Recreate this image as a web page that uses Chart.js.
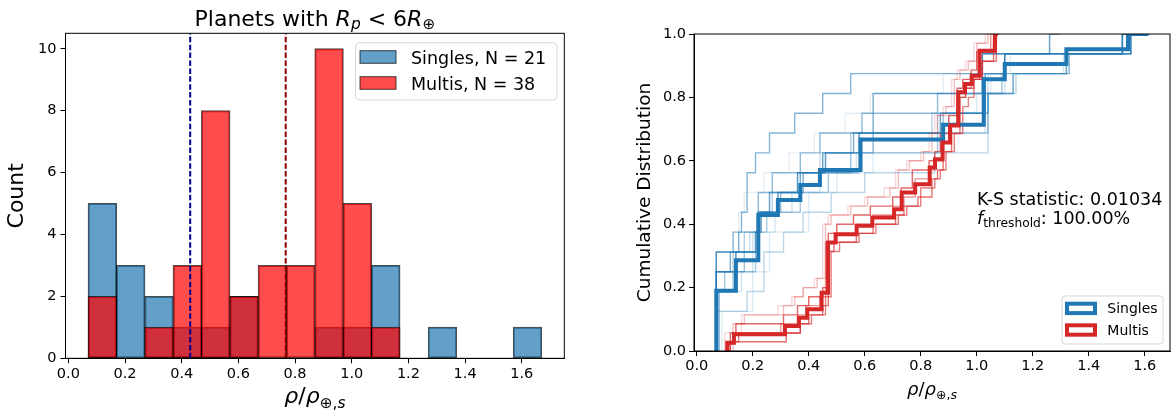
<!DOCTYPE html>
<html><head><meta charset="utf-8">
<script src="https://cdn.jsdelivr.net/npm/chart.js@4"></script>
<style>
body{margin:0;background:#fff;width:1172px;height:414px;overflow:hidden;position:relative}
canvas{position:absolute;top:0}
#c1{left:0}
#c2{left:586px}
</style></head><body>
<canvas id="c1" width="580" height="414"></canvas>
<canvas id="c2" width="586" height="414"></canvas>
<script>
// ---------- Left panel data (histogram) ----------
const binCenters = [0.12,0.22,0.32,0.42,0.52,0.62,0.72,0.82,0.92,1.02,1.12,1.22,1.32,1.42,1.52,1.62];
const singlesCounts = [5,3,2,1,1,2,0,0,1,1,3,0,1,0,0,1];
const multisCounts  = [2,0,1,3,8,2,3,3,10,5,1,0,0,0,0,0];
const medians = [0.43, 0.767];          // singles, multis
const histLabels = ['Singles, N = 21', 'Multis, N = 38'];
const histXTicks = [0.0,0.2,0.4,0.6,0.8,1.0,1.2,1.4,1.6];
const histYTicks = [0,2,4,6,8,10];

// ---------- Right panel data (cumulative distributions) ----------
const singlesCdfX = [0.07,0.07,0.14,0.22,0.29,0.37,0.44,0.585,0.88,1.025,1.10,1.32,1.54,1.613];
const singlesCdfY = [0,0.190,0.286,0.429,0.476,0.524,0.571,0.667,0.714,0.857,0.905,0.952,1.0,1.0];
const multisCdfX = [0.109,0.109,0.133,0.315,0.365,0.395,0.446,0.469,0.496,0.571,0.627,0.705,0.732,0.780,0.832,0.851,0.878,0.905,0.934,0.958,0.982,1.010,1.065,1.075];
const multisCdfY = [0,0.026,0.053,0.079,0.105,0.132,0.184,0.342,0.368,0.395,0.421,0.447,0.500,0.526,0.579,0.605,0.658,0.711,0.816,0.842,0.868,0.947,1.0,1.0];

const singlesBootX = [
  [0.07,0.07,0.14,0.22,0.26,0.36,0.45,0.58,0.87,1.03,1.10,1.55,1.62],
  [0.07,0.07,0.13,0.16,0.18,0.21,0.26,0.35,0.45,0.55,1.02,1.26,1.30],
  [0.08,0.08,0.13,0.17,0.22,0.30,0.37,0.55,0.63,0.88,1.04,1.13,1.32,1.52,1.55],
  [0.07,0.07,0.18,0.24,0.31,0.38,0.48,0.60,0.85,1.04,1.14,1.33,1.55,1.60],
  [0.07,0.07,0.15,0.22,0.27,0.37,0.44,0.59,0.86,1.02,1.10,1.52,1.55],
  [0.07,0.07,0.16,0.20,0.28,0.34,0.44,0.57,0.87,1.03,1.10,1.31,1.52,1.56],
  [0.09,0.09,0.20,0.26,0.40,0.50,0.63,0.90,1.00,1.05,1.12,1.26,1.28],
  [0.07,0.07,0.12,0.21,0.23,0.29,0.38,0.46,0.56,0.63,1.02,1.52,1.55],
  [0.07,0.07,0.13,0.17,0.23,0.27,0.37,0.46,0.55,0.84,1.03,1.13,1.33,1.55,1.58],
  [0.08,0.08,0.14,0.19,0.22,0.29,0.36,0.44,0.58,0.86,1.04,1.10,1.52,1.55],
  [0.07,0.07,0.15,0.17,0.24,0.33,0.42,0.53,0.62,0.88,1.02,1.26,1.28],
  [0.07,0.07,0.10,0.21,0.25,0.37,0.47,0.58,0.86,1.04,1.09,1.32,1.55,1.57]
];
const singlesBootY = [
  [0,0.25,0.3125,0.4375,0.5,0.5625,0.625,0.6875,0.75,0.875,0.9375,1,1],
  [0,0.3125,0.375,0.4375,0.5625,0.625,0.6875,0.75,0.8125,0.875,0.9375,1,1],
  [0,0.1875,0.25,0.3125,0.4375,0.5,0.5625,0.625,0.6875,0.75,0.8125,0.875,0.9375,1,1],
  [0,0.125,0.1875,0.3125,0.375,0.4375,0.5,0.5625,0.625,0.8125,0.875,0.9375,1,1],
  [0,0.3125,0.375,0.5,0.5625,0.625,0.6875,0.75,0.8125,0.875,0.9375,1,1],
  [0,0.1875,0.25,0.375,0.4375,0.5,0.5625,0.625,0.6875,0.8125,0.875,0.9375,1,1],
  [0,0.125,0.25,0.375,0.5,0.5625,0.6875,0.75,0.8125,0.875,0.9375,1,1],
  [0,0.25,0.3125,0.375,0.4375,0.5,0.5625,0.625,0.6875,0.8125,0.9375,1,1],
  [0,0.25,0.3125,0.375,0.4375,0.5,0.5625,0.625,0.6875,0.75,0.8125,0.875,0.9375,1,1],
  [0,0.1875,0.3125,0.375,0.4375,0.5,0.5625,0.625,0.6875,0.75,0.875,0.9375,1,1],
  [0,0.3125,0.4375,0.5,0.5625,0.625,0.6875,0.75,0.8125,0.875,0.9375,1,1],
  [0,0.1875,0.25,0.375,0.4375,0.5,0.5625,0.625,0.6875,0.8125,0.875,0.9375,1,1]
];
const singlesBootAlpha = [0.7,0.55,0.45,0.3,0.5,0.2,0.15,0.6,0.35,0.25,0.12,0.4];

const multisBootX = [
  [0.12,0.12,0.14,0.31,0.36,0.40,0.45,0.47,0.50,0.56,0.62,0.70,0.73,0.77,0.83,0.85,0.87,0.90,0.93,0.95,0.98,1.00,1.06,1.07],
  [0.11,0.11,0.15,0.33,0.37,0.41,0.46,0.48,0.51,0.58,0.64,0.72,0.75,0.80,0.85,0.87,0.89,0.92,0.95,0.97,0.99,1.02,1.07,1.08],
  [0.13,0.13,0.17,0.31,0.35,0.38,0.43,0.46,0.48,0.55,0.61,0.69,0.72,0.76,0.81,0.84,0.86,0.89,0.92,0.94,0.97,1.00,1.04,1.05],
  [0.12,0.12,0.13,0.32,0.37,0.40,0.45,0.47,0.49,0.57,0.63,0.71,0.74,0.79,0.84,0.86,0.88,0.91,0.94,0.96,0.99,1.02,1.06,1.07],
  [0.10,0.10,0.16,0.29,0.34,0.38,0.42,0.45,0.47,0.54,0.60,0.67,0.71,0.75,0.80,0.83,0.85,0.88,0.91,0.93,0.96,0.99,1.03,1.04],
  [0.11,0.11,0.13,0.30,0.36,0.39,0.44,0.46,0.50,0.57,0.63,0.70,0.74,0.78,0.83,0.85,0.88,0.90,0.93,0.96,0.98,1.01,1.05,1.06]
];
const multisBootY = [
  [0,0.057,0.086,0.114,0.143,0.171,0.2,0.371,0.4,0.429,0.457,0.486,0.514,0.571,0.6,0.629,0.686,0.743,0.829,0.857,0.886,0.943,1.0,1.0],
  [0,0.029,0.057,0.057,0.086,0.114,0.171,0.314,0.343,0.371,0.4,0.429,0.457,0.514,0.543,0.571,0.629,0.686,0.771,0.8,0.857,0.914,1.0,1.0],
  [0,0.086,0.114,0.143,0.171,0.2,0.229,0.4,0.429,0.457,0.486,0.514,0.571,0.6,0.629,0.686,0.743,0.771,0.857,0.886,0.914,0.971,1.0,1.0],
  [0,0.029,0.029,0.057,0.086,0.114,0.143,0.314,0.343,0.371,0.4,0.429,0.457,0.486,0.543,0.571,0.629,0.686,0.8,0.829,0.857,0.914,0.971,1.0],
  [0,0.057,0.114,0.143,0.171,0.2,0.229,0.4,0.429,0.457,0.486,0.514,0.571,0.6,0.629,0.686,0.743,0.771,0.857,0.886,0.914,0.971,1.0,1.0],
  [0,0.029,0.057,0.086,0.114,0.143,0.171,0.343,0.371,0.4,0.429,0.457,0.486,0.543,0.571,0.6,0.657,0.714,0.8,0.829,0.857,0.943,1.0,1.0]
];
const multisBootAlpha = [0.7,0.6,0.3,0.65,0.18,0.5];
const cdfLabels = ['Singles','Multis'];
const cdfXTicks = [0.0,0.2,0.4,0.6,0.8,1.0,1.2,1.4,1.6];
const cdfYTicks = [0.0,0.2,0.4,0.6,0.8,1.0];
const ksText = 'K-S statistic: 0.01034';
const fText = ': 100.00%';

// ---------- helpers ----------
const FAM = '"DejaVu Sans"';
function drawRuns(ctx, runs, x, y, align){
  let w = 0; const ms = [];
  for (const r of runs){ ctx.font = (r.i?'italic ':'') + r.s + 'px ' + FAM; const m = ctx.measureText(r.t).width; ms.push(m); w += m; }
  let cx = align === 'center' ? x - w/2 : x;
  ctx.textAlign = 'left'; ctx.textBaseline = 'alphabetic'; ctx.fillStyle = '#000';
  runs.forEach((r,k) => { ctx.font = (r.i?'italic ':'') + r.s + 'px ' + FAM; ctx.fillText(r.t, cx, y + (r.dy||0)); cx += ms[k]; });
}
function roundRect(ctx,x,y,w,h,r){
  ctx.beginPath(); ctx.moveTo(x+r,y); ctx.lineTo(x+w-r,y); ctx.quadraticCurveTo(x+w,y,x+w,y+r);
  ctx.lineTo(x+w,y+h-r); ctx.quadraticCurveTo(x+w,y+h,x+w-r,y+h); ctx.lineTo(x+r,y+h);
  ctx.quadraticCurveTo(x,y+h,x,y+h-r); ctx.lineTo(x,y+r); ctx.quadraticCurveTo(x,y,x+r,y); ctx.closePath();
}
const pts = (xs, ys) => xs.map((x,k) => ({x: x, y: ys[k]}));
const tickFont = {family: 'DejaVu Sans', size: 14.5};
function axisCommon(ticksArr, fmt, pad){
  return {
    type: 'linear',
    offset: false,
    grid: {display: true, drawOnChartArea: false, drawTicks: true, tickLength: 5, tickColor: '#000', tickWidth: 1, offset: false},
    border: {display: true, color: '#000', width: 1},
    ticks: {color: '#000', font: tickFont, padding: pad, callback: fmt, maxRotation: 0, autoSkip: false},
    afterBuildTicks: s => { s.ticks = ticksArr.map(v => ({value: v})); }
  };
}

// ---------- Left chart ----------
const SBLUE = 'rgba(31,119,180,0.7)', SRED = 'rgba(255,0,0,0.7)', EDGE = 'rgba(0,0,0,0.7)';
const leftPlugin = {
  id: 'leftDecor',
  afterDraw(chart){
    const ctx = chart.ctx, ca = chart.chartArea;
    ctx.save();
    ctx.strokeStyle = '#000'; ctx.lineWidth = 1;
    ctx.strokeRect(ca.left, ca.top, ca.right-ca.left, ca.bottom-ca.top);
    drawRuns(ctx, [{t:'Planets with ',s:22},{t:'R',s:22,i:1},{t:'p',s:15.4,i:1,dy:3},{t:' < ',s:22},{t:'6',s:22},{t:'R',s:22,i:1},{t:'\u2295',s:15.4,dy:3}], (ca.left+ca.right)/2, 25.5, 'center');
    drawRuns(ctx, [{t:'\u03c1',s:22,i:1},{t:'/',s:22},{t:'\u03c1',s:22,i:1},{t:'\u2295',s:15.4,dy:4.5},{t:',',s:15.4,dy:4.5},{t:'s',s:15.4,i:1,dy:4.5}], (ca.left+ca.right)/2, 403, 'center');
    roundRect(ctx, 355.5, 42.7, 201.5, 57.3, 4);
    ctx.fillStyle = 'rgba(255,255,255,0.8)'; ctx.fill();
    ctx.strokeStyle = 'rgba(204,204,204,0.8)'; ctx.lineWidth = 1; ctx.stroke();
    const cols = [SBLUE, SRED]; const ys = [50.7, 76.7]; const bl = [64.3, 90];
    for (let k=0;k<2;k++){
      ctx.fillStyle = cols[k]; ctx.fillRect(360, ys[k], 36, 12.6);
      ctx.strokeStyle = EDGE; ctx.lineWidth = 1; ctx.strokeRect(360, ys[k], 36, 12.6);
      ctx.fillStyle = '#000'; ctx.font = '17.5px ' + FAM; ctx.textAlign = 'left'; ctx.textBaseline = 'alphabetic';
      ctx.fillText(histLabels[k], 411, bl[k]);
    }
    ctx.restore();
  }
};
const xL = axisCommon(histXTicks, v => Number(v).toFixed(1), 2);
xL.min = -0.01; xL.max = 1.75;
xL.afterFit = s => { s.height = 414 - 358.3; };
const yL = axisCommon(histYTicks, v => String(v), 4);
yL.min = 0; yL.max = 10.5;
yL.title = {display: true, text: 'Count', color: '#000', font: {family: 'DejaVu Sans', size: 22}, padding: {top: 4.3, bottom: 0}};
yL.afterFit = s => { s.width = 65.5; };

const barOpts = {borderColor: EDGE, borderWidth: 1, borderSkipped: false, grouped: false, barPercentage: 1, categoryPercentage: 1, inflateAmount: 0.5};
new Chart(document.getElementById('c1'), {
  type: 'bar',
  data: {
    datasets: [
      {type: 'line', label: 'median singles', data: [{x: medians[0], y: 0}, {x: medians[0], y: 10.5}], borderColor: '#00008b', borderWidth: 2, borderDash: [5.5, 2.4], pointRadius: 0, order: 0},
      {type: 'line', label: 'median multis', data: [{x: medians[1], y: 0}, {x: medians[1], y: 10.5}], borderColor: '#8b0000', borderWidth: 2, borderDash: [5.5, 2.4], pointRadius: 0, order: 0},
      Object.assign({label: histLabels[1], data: pts(binCenters, multisCounts), backgroundColor: SRED, order: 1}, barOpts),
      Object.assign({label: histLabels[0], data: pts(binCenters, singlesCounts), backgroundColor: SBLUE, order: 2}, barOpts)
    ]
  },
  options: {
    responsive: false, animation: false, devicePixelRatio: 1,
    layout: {padding: {left: 0, right: 580 - 564.3, top: 33.3, bottom: 0}},
    plugins: {legend: {display: false}, tooltip: {enabled: false}, title: {display: false}},
    scales: {x: xL, y: yL}
  },
  plugins: [leftPlugin]
});

// ---------- Right chart ----------
const BLUE = '#1f77b4', RED = '#d62728';
const hexA = (hex, a) => 'rgba(' + parseInt(hex.slice(1,3),16) + ',' + parseInt(hex.slice(3,5),16) + ',' + parseInt(hex.slice(5,7),16) + ',' + a + ')';
const rightPlugin = {
  id: 'rightDecor',
  afterDraw(chart){
    const ctx = chart.ctx, ca = chart.chartArea;
    ctx.save();
    ctx.strokeStyle = '#000'; ctx.lineWidth = 1;
    ctx.strokeRect(ca.left, ca.top, ca.right-ca.left, ca.bottom-ca.top);
    drawRuns(ctx, [{t:'\u03c1',s:18,i:1},{t:'/',s:18},{t:'\u03c1',s:18,i:1},{t:'\u2295',s:12.6,dy:3.7},{t:',',s:12.6,dy:3.7},{t:'s',s:12.6,i:1,dy:3.7}], (ca.left+ca.right)/2, 395, 'center');
    drawRuns(ctx, [{t: ksText, s: 17.5}], 391, 205, 'left');
    drawRuns(ctx, [{t:'f',s:17.5,i:1},{t:'threshold',s:12.25,dy:3},{t:fText,s:17.5}], 391, 224, 'left');
    roundRect(ctx, 476, 296, 101, 48, 3);
    ctx.fillStyle = 'rgba(255,255,255,0.8)'; ctx.fill();
    ctx.strokeStyle = 'rgba(204,204,204,0.8)'; ctx.lineWidth = 1; ctx.stroke();
    const cols = [BLUE, RED]; const ys = [303.7, 325.3]; const bl = [313.3, 335];
    for (let k=0;k<2;k++){
      ctx.strokeStyle = cols[k]; ctx.lineWidth = 4; ctx.strokeRect(481, ys[k], 28, 9.4);
      ctx.fillStyle = '#000'; ctx.font = '14px ' + FAM; ctx.textAlign = 'left'; ctx.textBaseline = 'alphabetic';
      ctx.fillText(cdfLabels[k], 521.3, bl[k]);
    }
    ctx.restore();
  }
};
const xR = axisCommon(cdfXTicks, v => Number(v).toFixed(1), 2);
xR.min = -0.0096; xR.max = 1.69;
xR.afterFit = s => { s.height = 414 - 351; };
const yR = axisCommon(cdfYTicks, v => Number(v).toFixed(1), 3);
yR.min = 0; yR.max = 1;
yR.title = {display: true, text: 'Cumulative Distribution', color: '#000', font: {family: 'DejaVu Sans', size: 18.5}, padding: {top: 48.4, bottom: 0}};
yR.afterFit = s => { s.width = 108; };

const stepDs = (label, xs, ys, color, w) => ({label, data: pts(xs, ys), borderColor: color, borderWidth: w, stepped: 'before', pointRadius: 0, fill: false, tension: 0, borderJoinStyle: 'miter'});
const rds = [
  stepDs(cdfLabels[1], multisCdfX, multisCdfY, RED, 4),
  stepDs(cdfLabels[0], singlesCdfX, singlesCdfY, BLUE, 4)
];
multisBootX.forEach((xs,k) => rds.push(stepDs('multis sample ' + (k+1), xs, multisBootY[k], hexA(RED, multisBootAlpha[k]), 1.4)));
singlesBootX.forEach((xs,k) => rds.push(stepDs('singles sample ' + (k+1), xs, singlesBootY[k], hexA(BLUE, singlesBootAlpha[k]), 1.4)));

new Chart(document.getElementById('c2'), {
  type: 'line',
  data: {datasets: rds},
  options: {
    responsive: false, animation: false, devicePixelRatio: 1,
    layout: {padding: {left: 0, right: 2, top: 34, bottom: 0}},
    plugins: {legend: {display: false}, tooltip: {enabled: false}, title: {display: false}},
    scales: {x: xR, y: yR}
  },
  plugins: [rightPlugin]
});
</script>
</body></html>
